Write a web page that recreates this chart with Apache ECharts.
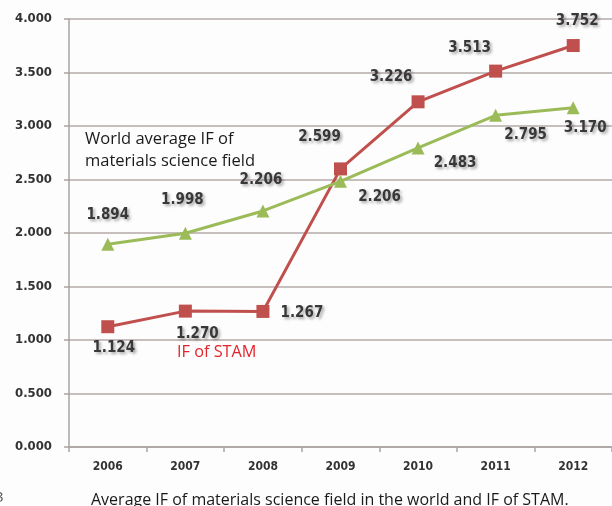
<!DOCTYPE html>
<html>
<head>
<meta charset="utf-8">
<script src="https://cdn.jsdelivr.net/npm/echarts@6/dist/echarts.min.js"></script>
<style>
html,body{margin:0;padding:0;background:#ffffff;}
#c{width:612px;height:506px;}
</style>
</head>
<body>
<div id="c"></div>
<script>
var years = ['2006','2007','2008','2009','2010','2011','2012'];
var stamValues = [1.124, 1.270, 1.267, 2.599, 3.226, 3.513, 3.752];
var worldValues = [1.894, 1.998, 2.206, 2.483, 2.795, 3.100, 3.170];
var stamLabels = ['1.124','1.270','1.267','2.599','3.226','3.513','3.752'];
var worldLabels = ['1.894','1.998','2.206','2.206','2.483','2.795','3.170'];
var yTicks = ['0.000','0.500','1.000','1.500','2.000','2.500','3.000','3.500','4.000'];

var stamOffsets = [[6,21],[12,23],[39,2],[-21,-32],[-27,-25],[-26,-23],[4,-24]];
var worldOffsets = [[0,-29],[-3,-33],[-2,-31],[39,16],[37,15],[30,20],[12,20]];

var labelStyle = {
  show: true,
  position: 'inside',
  fontFamily: '"DejaVu Sans Condensed", "DejaVu Sans"',
  fontSize: 15,
  fontWeight: 'bold',
  color: '#383838',
  textShadowColor: 'rgba(0,0,0,0.35)',
  textShadowBlur: 3,
  textShadowOffsetX: 2,
  textShadowOffsetY: 2
};

function buildData(values, labels, offsets) {
  return values.map(function (v, i) {
    return {
      value: v,
      label: Object.assign({}, labelStyle, {
        offset: offsets[i],
        formatter: labels[i]
      })
    };
  });
}

var chart = echarts.init(document.getElementById('c'), null, {renderer: 'canvas'});
chart.setOption({
  backgroundColor: '#fdfdfd',
  animation: false,
  grid: {left: 69, top: 19, width: 544, height: 428, containLabel: false},
  xAxis: {
    type: 'category',
    data: years,
    boundaryGap: true,
    axisLine: {show: true, lineStyle: {color: '#aaa2a0', width: 1.5}},
    axisTick: {show: true, length: 5, lineStyle: {color: '#aaa2a0', width: 1.5}},
    axisLabel: {
      margin: 14,
      fontFamily: '"DejaVu Sans Condensed", "DejaVu Sans"',
      fontSize: 12,
      fontWeight: 'bold',
      color: '#333'
    },
    splitLine: {show: false}
  },
  yAxis: {
    type: 'value',
    min: 0,
    max: 4,
    interval: 0.5,
    axisLine: {show: true, lineStyle: {color: '#aaa2a0', width: 1.5}},
    axisTick: {show: true, length: 5, lineStyle: {color: '#aaa2a0', width: 1.5}},
    axisLabel: {
      margin: 17,
      fontFamily: '"DejaVu Sans Condensed", "DejaVu Sans"',
      fontSize: 13,
      fontWeight: 'bold',
      color: '#333',
      formatter: function (v) { return yTicks[Math.round(v / 0.5)]; }
    },
    splitLine: {show: true, lineStyle: {color: '#b3aaa8', width: 1.5}}
  },
  series: [
    {
      name: 'IF of STAM',
      type: 'line',
      data: buildData(stamValues, stamLabels, stamOffsets),
      symbol: 'rect',
      symbolSize: 13,
      lineStyle: {color: '#c0504d', width: 3},
      itemStyle: {color: '#c0504d'},
      z: 3
    },
    {
      name: 'World average IF of materials science field',
      type: 'line',
      data: buildData(worldValues, worldLabels, worldOffsets),
      symbol: 'triangle',
      symbolSize: 13,
      lineStyle: {color: '#9bbb59', width: 3},
      itemStyle: {color: '#9bbb59'},
      z: 4
    }
  ],
  graphic: [
    {
      type: 'text', left: 85, top: 128,
      style: {
        text: 'World average IF of\nmaterials science field',
        fontFamily: 'Open Sans', fontSize: 16.5, lineHeight: 22,
        fill: '#1a1a1a'
      }
    },
    {
      type: 'text', left: 177, top: 344,
      style: {
        text: 'IF of STAM',
        fontFamily: 'Open Sans', fontSize: 16.3,
        fill: '#e3242b'
      }
    },
    {
      type: 'text', left: 91, top: 492,
      style: {
        text: 'Average IF of materials science field in the world and IF of STAM.',
        fontFamily: 'Open Sans', fontSize: 16,
        fill: '#1a1a1a'
      }
    },
    {
      type: 'text', left: -5, top: 490,
      style: {
        text: '3',
        fontFamily: 'Open Sans', fontSize: 15,
        fill: '#555'
      }
    }
  ]
});
</script>
</body>
</html>
